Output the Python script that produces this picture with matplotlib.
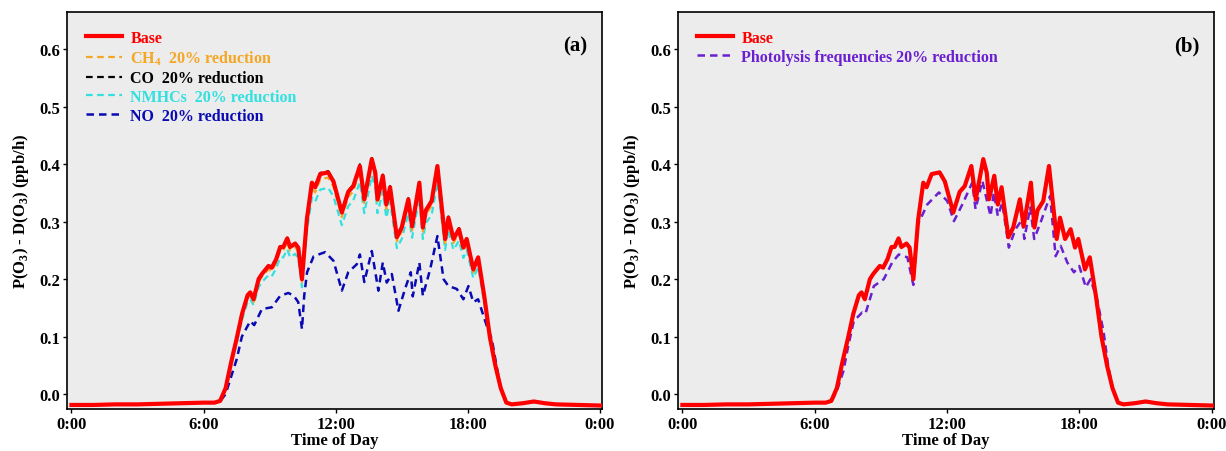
import matplotlib
matplotlib.use('Agg')
import matplotlib.pyplot as plt
import numpy as np

plt.rcParams['font.family'] = ['Liberation Serif', 'DejaVu Serif']
plt.rcParams['font.weight'] = 'bold'
plt.rcParams['mathtext.fontset'] = 'custom'
plt.rcParams['mathtext.rm'] = 'Liberation Serif:bold'
plt.rcParams['mathtext.bf'] = 'Liberation Serif:bold'

# time of day (hours) for the base grid
t_base = [0, 1, 2, 3, 4, 5, 6, 6.5, 6.75, 7.0, 7.25, 7.5, 7.75, 8.0, 8.12, 8.27, 8.5, 8.65,
          8.95, 9.1, 9.3, 9.48, 9.62, 9.8, 9.93, 10.16, 10.3, 10.47, 10.69, 10.92, 11.07,
          11.3, 11.66, 11.9, 12.28, 12.57, 12.8, 13.1, 13.3, 13.64, 13.8, 13.9, 14.14, 14.3,
          14.47, 14.78, 15.0, 15.3, 15.47, 15.8, 15.96, 16.1, 16.36, 16.62, 16.97, 17.12,
          17.35, 17.6, 17.8, 17.95, 18.25, 18.47, 18.75, 19.0, 19.25, 19.5, 19.75, 20.0,
          20.5, 21.0, 21.5, 22, 23, 24]

base = [-0.019, -0.019, -0.018, -0.018, -0.017, -0.016, -0.015, -0.015, -0.012, 0.010, 0.055,
        0.096, 0.140, 0.172, 0.177, 0.165, 0.200, 0.209, 0.223, 0.220, 0.235, 0.256, 0.256,
        0.271, 0.256, 0.262, 0.255, 0.200, 0.304, 0.368, 0.360, 0.383, 0.386, 0.370, 0.316,
        0.352, 0.362, 0.397, 0.339, 0.409, 0.385, 0.339, 0.380, 0.330, 0.360, 0.273, 0.290,
        0.339, 0.292, 0.368, 0.290, 0.320, 0.336, 0.397, 0.270, 0.307, 0.270, 0.287, 0.255,
        0.270, 0.217, 0.238, 0.170, 0.100, 0.050, 0.010, -0.015, -0.018, -0.016, -0.013,
        -0.016, -0.018, -0.019, -0.020]

ch4 = [-0.019, -0.019, -0.018, -0.018, -0.017, -0.016, -0.015, -0.015, -0.012, 0.009, 0.053,
       0.093, 0.136, 0.167, 0.172, 0.160, 0.195, 0.204, 0.217, 0.214, 0.229, 0.250, 0.250,
       0.264, 0.250, 0.255, 0.249, 0.195, 0.296, 0.359, 0.351, 0.374, 0.377, 0.361, 0.308,
       0.343, 0.353, 0.388, 0.331, 0.399, 0.376, 0.331, 0.371, 0.322, 0.351, 0.266, 0.283,
       0.331, 0.285, 0.359, 0.283, 0.312, 0.328, 0.388, 0.263, 0.299, 0.263, 0.280, 0.249,
       0.263, 0.212, 0.232, 0.166, 0.097, 0.049, 0.009, -0.015, -0.018, -0.016, -0.013,
       -0.016, -0.018, -0.019, -0.020]

co = [-0.019, -0.019, -0.018, -0.018, -0.017, -0.016, -0.015, -0.015, -0.012, 0.010, 0.055,
      0.096, 0.141, 0.173, 0.178, 0.166, 0.201, 0.210, 0.224, 0.221, 0.236, 0.257, 0.257,
      0.272, 0.257, 0.263, 0.256, 0.201, 0.305, 0.370, 0.362, 0.385, 0.388, 0.372, 0.318,
      0.354, 0.364, 0.400, 0.341, 0.411, 0.387, 0.341, 0.382, 0.332, 0.362, 0.275, 0.292,
      0.341, 0.294, 0.370, 0.292, 0.322, 0.338, 0.399, 0.272, 0.309, 0.272, 0.289, 0.257,
      0.272, 0.218, 0.239, 0.171, 0.100, 0.050, 0.010, -0.015, -0.018, -0.016, -0.013,
      -0.016, -0.018, -0.019, -0.020]

nmhc = [-0.019, -0.019, -0.018, -0.018, -0.017, -0.016, -0.015, -0.015, -0.012, 0.008, 0.050,
        0.088, 0.130, 0.160, 0.165, 0.155, 0.186, 0.195, 0.207, 0.205, 0.219, 0.238, 0.238,
        0.252, 0.238, 0.244, 0.237, 0.186, 0.283, 0.342, 0.335, 0.356, 0.359, 0.344, 0.294,
        0.327, 0.337, 0.369, 0.315, 0.380, 0.358, 0.315, 0.353, 0.307, 0.335, 0.254, 0.270,
        0.315, 0.272, 0.342, 0.270, 0.298, 0.312, 0.369, 0.251, 0.286, 0.251, 0.267, 0.237,
        0.251, 0.202, 0.221, 0.158, 0.093, 0.046, 0.009, -0.015, -0.018, -0.016, -0.013,
        -0.016, -0.018, -0.019, -0.020]

t_no = [0, 1, 2, 3, 4, 5, 6, 6.5, 6.75, 7.0, 7.25, 7.5, 7.74, 8.12, 8.3, 8.65, 9.1, 9.48,
        9.85, 10.1, 10.3, 10.47, 10.57, 10.7, 11.0, 11.52, 11.9, 12.28, 12.57, 12.96, 13.1,
        13.3, 13.64, 13.94, 14.14, 14.32, 14.55, 14.85, 15.15, 15.41, 15.5, 15.8, 15.96,
        16.29, 16.62, 16.9, 17.12, 17.5, 17.8, 18.03, 18.25, 18.47, 18.86, 19.09, 19.3,
        19.5, 19.75, 20, 20.5, 21, 21.5, 22, 23, 24]
no = [-0.019, -0.019, -0.018, -0.018, -0.017, -0.016, -0.015, -0.015, -0.013, 0.000, 0.030,
      0.060, 0.100, 0.127, 0.120, 0.148, 0.151, 0.171, 0.176, 0.171, 0.160, 0.113, 0.171,
      0.212, 0.240, 0.247, 0.232, 0.180, 0.212, 0.226, 0.243, 0.195, 0.249, 0.180, 0.229,
      0.194, 0.209, 0.145, 0.183, 0.212, 0.170, 0.229, 0.171, 0.217, 0.275, 0.200, 0.188,
      0.183, 0.165, 0.188, 0.160, 0.165, 0.119, 0.096, 0.050, 0.010, -0.015, -0.018, -0.016,
      -0.013, -0.016, -0.018, -0.019, -0.020]

t_pho = [0, 1, 2, 3, 4, 5, 6, 6.5, 6.75, 7.0, 7.3, 7.5, 7.77, 8.15, 8.3, 8.68, 9.13, 9.51,
         9.81, 10.2, 10.47, 10.65, 11.1, 11.63, 12.01, 12.31, 12.69, 13.14, 13.29, 13.6,
         13.97, 14.12, 14.3, 14.5, 14.8, 15.1, 15.41, 15.5, 15.77, 15.95, 16.25, 16.67,
         16.92, 17.15, 17.45, 17.75, 17.99, 18.29, 18.5, 18.8, 19.1, 19.3, 19.5, 19.75, 20,
         20.5, 21, 21.5, 22, 23, 24]
pho = [-0.019, -0.019, -0.018, -0.018, -0.017, -0.016, -0.015, -0.015, -0.013, 0.005, 0.040,
       0.080, 0.127, 0.142, 0.140, 0.188, 0.200, 0.229, 0.243, 0.238, 0.190, 0.293, 0.330,
       0.351, 0.336, 0.301, 0.330, 0.368, 0.322, 0.371, 0.310, 0.351, 0.310, 0.333, 0.255,
       0.287, 0.304, 0.270, 0.325, 0.270, 0.300, 0.345, 0.240, 0.258, 0.229, 0.212, 0.223,
       0.186, 0.200, 0.165, 0.107, 0.050, 0.010, -0.015, -0.018, -0.016, -0.013, -0.016,
       -0.018, -0.019, -0.020]

xticks = [0, 6, 12, 18, 24]
xticklabels = ['0:00', '6:00', '12:00', '18:00', '0:00']
ylabel = r'P(O$_{3}$) - D(O$_{3}$) (ppb/h)'

fig = plt.figure(figsize=(12.26, 4.52), dpi=100)
ax1 = fig.add_axes([0.0547, 0.093, 0.4364, 0.878])
ax2 = fig.add_axes([0.553, 0.093, 0.4372, 0.878])

dash = (0, (3, 2))

ax1.plot(t_base, base, color='#ff0000', lw=3, label='Base', zorder=5)
ax1.plot(t_base, ch4, color='#f5a623', lw=1.6, ls=dash, label=r'CH$_{4}$  20% reduction', zorder=4)
ax1.plot(t_base, co, color='black', lw=1.6, ls=dash, label='CO  20% reduction', zorder=3)
ax1.plot(t_base, nmhc, color='#33e0e0', lw=1.6, ls=dash, label='NMHCs  20% reduction', zorder=3)
ax1.plot(t_no, no, color='#0a0ab4', lw=1.8, ls=dash, label='NO  20% reduction', zorder=3)

ax2.plot(t_base, base, color='#ff0000', lw=3, label='Base', zorder=5)
ax2.plot(t_pho, pho, color='#6a1fd0', lw=1.8, ls=dash, label='Photolysis frequencies 20% reduction', zorder=4)

for ax, tag in [(ax1, '(a)'), (ax2, '(b)')]:
    ax.set_facecolor('#ececec')
    ax.set_xlim(-0.2, 24.1)
    ax.set_ylim(-0.026, 0.665)
    ax.set_xticks(xticks)
    ax.set_xticklabels(xticklabels)
    ax.set_yticks([0.0, 0.1, 0.2, 0.3, 0.4, 0.5, 0.6])
    ax.set_yticklabels(['0.0', '0.1', '0.2', '0.3', '0.4', '0.5', '0.6'])
    ax.tick_params(labelsize=12, length=3, width=1, pad=2)
    for lab in ax.get_xticklabels() + ax.get_yticklabels():
        lab.set_fontweight('bold')
    for sp in ax.spines.values():
        sp.set_linewidth(1.2)
    ax.set_xlabel('Time of Day', fontsize=12, fontweight='bold', labelpad=0)
    ax.set_ylabel(ylabel, fontsize=12, fontweight='bold', labelpad=6)
    ax.text(0.95, 0.915, tag, transform=ax.transAxes, fontsize=15, fontweight='bold',
            ha='center', va='center')
    leg = ax.legend(loc='upper left', bbox_to_anchor=(0.005, 0.995), frameon=False,
                    handlelength=2.3, handletextpad=0.5, labelspacing=0.17,
                    borderaxespad=0.6, prop={'weight': 'bold', 'size': 11.5})
    for line, text in zip(leg.get_lines(), leg.get_texts()):
        text.set_color(line.get_color())

fig.savefig('out.png', dpi=100)
